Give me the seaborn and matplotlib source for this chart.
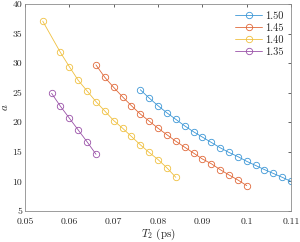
import numpy as np
import pandas as pd
import matplotlib
matplotlib.use('Agg')
import matplotlib.pyplot as plt
import seaborn as sns

# values
t2_150 = [0.076, 0.078, 0.080, 0.082, 0.084, 0.086, 0.088, 0.090, 0.092,
          0.094, 0.096, 0.098, 0.100, 0.102, 0.104, 0.106, 0.108, 0.110]
a_150 = [25.5, 24.1, 22.8, 21.6, 20.5, 19.4, 18.4, 17.5, 16.6,
         15.7, 14.9, 14.2, 13.4, 12.7, 12.0, 11.35, 10.7, 10.0]

t2_145 = [0.066, 0.068, 0.070, 0.072, 0.074, 0.076, 0.078, 0.080, 0.082,
          0.084, 0.086, 0.088, 0.090, 0.092, 0.094, 0.096, 0.098, 0.100]
a_145 = [29.7, 27.6, 25.9, 24.3, 22.8, 21.4, 20.2, 19.0, 17.9,
         16.8, 15.8, 14.8, 13.8, 13.0, 12.0, 11.1, 10.25, 9.3]

t2_140 = [0.054, 0.058, 0.060, 0.062, 0.064, 0.066, 0.068, 0.070,
          0.072, 0.074, 0.076, 0.078, 0.080, 0.082, 0.084]
a_140 = [37.1, 31.8, 29.4, 27.1, 25.3, 23.5, 21.9, 20.3,
         19.0, 17.6, 16.2, 14.9, 13.7, 12.3, 10.7]

t2_135 = [0.056, 0.058, 0.060, 0.062, 0.064, 0.066]
a_135 = [24.9, 22.7, 20.7, 18.7, 16.7, 14.6]

labels = ['1.50', '1.45', '1.40', '1.35']
colors = ['#3d97d6', '#e0693a', '#f0c040', '#9a52a8']

xticks = [0.05, 0.06, 0.07, 0.08, 0.09, 0.10, 0.11]
xticklabels = ['0.05', '0.06', '0.07', '0.08', '0.09', '0.1', '0.11']
yticks = [5, 10, 15, 20, 25, 30, 35, 40]

df = pd.concat([
    pd.DataFrame({'T2': t2_150, 'a': a_150, 'n': '1.50'}),
    pd.DataFrame({'T2': t2_145, 'a': a_145, 'n': '1.45'}),
    pd.DataFrame({'T2': t2_140, 'a': a_140, 'n': '1.40'}),
    pd.DataFrame({'T2': t2_135, 'a': a_135, 'n': '1.35'}),
], ignore_index=True)

sns.set_style('white')
plt.rcParams['font.family'] = 'serif'
plt.rcParams['font.serif'] = ['cmr10', 'DejaVu Serif']
plt.rcParams['mathtext.fontset'] = 'cm'
plt.rcParams['axes.unicode_minus'] = False

fig = plt.figure(figsize=(3.0, 2.42), dpi=100)
ax = fig.add_axes([0.0833, 0.128, 0.887, 0.8555])

for lab, col in zip(labels, colors):
    sub = df[df['n'] == lab]
    sns.lineplot(data=sub, x='T2', y='a', ax=ax, color=col, label=lab,
                 marker='o', markersize=4.6, markerfacecolor='none',
                 markeredgecolor=col, markeredgewidth=0.6, linewidth=0.6,
                 sort=False)

ax.set_xlim(0.05, 0.11)
ax.set_ylim(5, 40)
ax.set_xticks(xticks)
ax.set_xticklabels(xticklabels)
ax.set_yticks(yticks)
ax.tick_params(direction='in', length=2.5, width=0.5, labelsize=7,
               colors='0.15', top=True, right=True)
ax.tick_params(axis='x', pad=4.5)
ax.tick_params(axis='y', pad=2)
for s in ax.spines.values():
    s.set_linewidth(0.6)
    s.set_color('0.55')
ax.set_xlabel('$T_2$ (ps)', fontsize=8, labelpad=0.5)
ax.set_ylabel('$a$', fontsize=8, labelpad=2)

leg = ax.legend(loc='upper right', frameon=False, fontsize=7.5,
                handlelength=2.6, handletextpad=0.3, labelspacing=0.25,
                borderaxespad=0.3)

fig.savefig('out.png', dpi=100)
